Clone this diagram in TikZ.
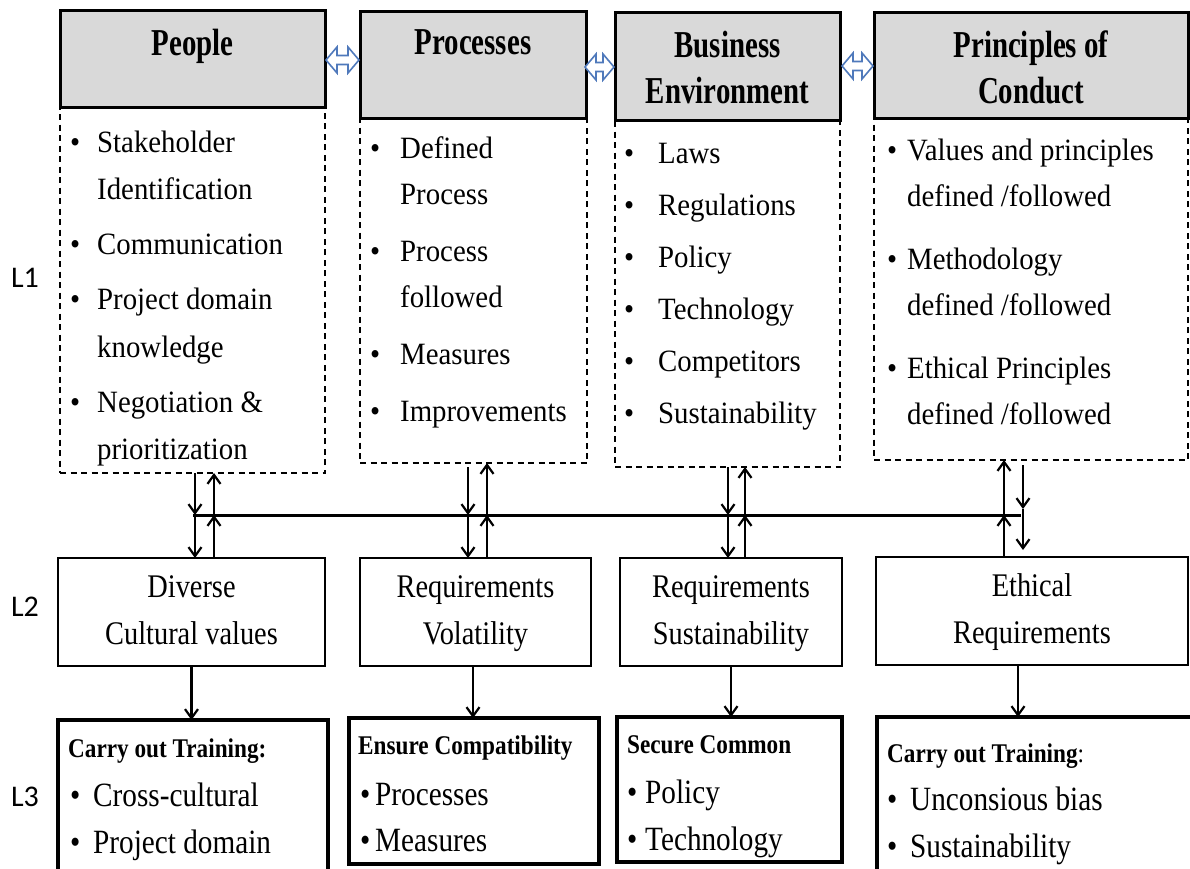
\documentclass[tikz,border=0pt]{standalone}
\usepackage{fontspec}
\setmainfont{Liberation Serif}
\newfontfamily\hdrfont[FakeStretch=0.76]{Liberation Serif}
\newfontfamily\ltwofont[FakeStretch=0.86]{Liberation Serif}
\newfontfamily\lthreefont[FakeStretch=0.86]{Liberation Serif}
\newfontfamily\bodyfont[FakeStretch=0.93]{Liberation Serif}
\newfontfamily\labfont{Carlito}
\usetikzlibrary{arrows.meta,calc}
\definecolor{hdrgray}{HTML}{D9D9D9}
\definecolor{arrblue}{HTML}{4F79BB}
\newcommand\dblarr[3]{%
  \draw[dblarrow] (#1,#3) -- ({#1+11},{#3-13}) -- ({#1+11},{#3-4.5}) -- ({#2-11},{#3-4.5}) -- ({#2-11},{#3-13}) -- (#2,#3) -- ({#2-11},{#3+13}) -- ({#2-11},{#3+4.5}) -- ({#1+11},{#3+4.5}) -- ({#1+11},{#3+13}) -- cycle;}
\tikzset{
  hdr/.style={draw=black, line width=3pt, fill=hdrgray, inner sep=0pt, outer sep=0pt},
  dbox/.style={draw=black, line width=1.8pt, dash pattern=on 6pt off 4.5pt, inner sep=0pt, outer sep=0pt},
  ltwobox/.style={draw=black, line width=2.2pt, inner sep=0pt, outer sep=0pt, font=\ltwofont\fontsize{33}{47}\selectfont},
  lthreebox/.style={draw=black, line width=3.2pt, inner sep=0pt, outer sep=0pt},
  htext/.style={font=\hdrfont\bfseries\fontsize{38}{46}\selectfont, inner sep=0pt, anchor=base},
  btext/.style={inner sep=0pt, anchor=base west},
  ttitle/.style={font=\lthreefont\bfseries\fontsize{27}{30}\selectfont, inner sep=0pt, anchor=base west},
  titems/.style={font=\lthreefont\fontsize{34}{47.5}\selectfont, inner sep=0pt, anchor=base west},
  lvl/.style={font=\labfont\fontsize{30}{34}\selectfont, inner sep=0pt},
  arr/.style={line width=2.4pt, -{Straight Barb[length=9pt,width=13pt,line width=2.2pt]}},
  busline/.style={line width=3pt},
  dblarrow/.style={draw=arrblue, fill=white, line width=1.6pt, line join=miter},
}
\begin{document}
\begin{tikzpicture}[x=1pt,y=-1pt]
\useasboundingbox (0,0) rectangle (1190,868);
\fill[white] (0,0) rectangle (1190,868);
\clip (0,0) rectangle (1190,868);

% ---- L1 headers
\node[hdr, minimum width=265pt, minimum height=97pt] (h1) at (192.5,58.5) {};
\node[hdr, minimum width=226pt, minimum height=107pt] (h2) at (473,64.5) {};
\node[hdr, minimum width=225pt, minimum height=108pt] (h3) at (727.5,66) {};
\node[hdr, minimum width=314pt, minimum height=106pt] (h4) at (1031,65) {};

\node[htext] (h1t) at (192.5,55) {People};
\node[htext] (h2t) at (473,54) {Processes};
\node[htext] (h3t) at (727.5,57) {\begin{tabular}[t]{@{}c@{}}Business\\Environment\end{tabular}};
\node[htext] (h4t) at (1031,57) {\begin{tabular}[t]{@{}c@{}}Principles of\\Conduct\end{tabular}};

% ---- L1 content boxes
\node[dbox, minimum width=265pt, minimum height=366pt] (c1) at (192.5,290) {};
\node[dbox, minimum width=227pt, minimum height=345pt] (c2) at (473.5,290.5) {};
\node[dbox, minimum width=225pt, minimum height=347pt] (c3) at (727.5,293.5) {};
\node[dbox, minimum width=314pt, minimum height=342pt] (c4) at (1031,289) {};

\node[btext, font=\bodyfont\fontsize{31}{47.5}\selectfont] (c1t) at (70,152) {\begin{tabular}[t]{@{}p{27pt}@{}l@{}}
\textbullet & Stakeholder\\
 & Identification\\[7.5pt]
\textbullet & Communication\\[7.5pt]
\textbullet & Project domain\\
 & knowledge\\[7.5pt]
\textbullet & Negotiation \&\\
 & prioritization
\end{tabular}};

\node[btext, font=\bodyfont\fontsize{31}{46}\selectfont] (c2t) at (370,158) {\begin{tabular}[t]{@{}p{30pt}@{}l@{}}
\textbullet & Defined\\
 & Process\\[11pt]
\textbullet & Process\\
 & followed\\[11pt]
\textbullet & Measures\\[11pt]
\textbullet & Improvements
\end{tabular}};

\node[btext, font=\bodyfont\fontsize{31}{52}\selectfont] (c3t) at (624,163) {\begin{tabular}[t]{@{}p{34pt}@{}l@{}}
\textbullet & Laws\\
\textbullet & Regulations\\
\textbullet & Policy\\
\textbullet & Technology\\
\textbullet & Competitors\\
\textbullet & Sustainability
\end{tabular}};

\node[btext, font=\bodyfont\fontsize{31}{46.5}\selectfont] (c4t) at (887,160) {\begin{tabular}[t]{@{}p{20pt}@{}l@{}}
\textbullet & Values and principles\\
 & defined /followed\\[16pt]
\textbullet & Methodology\\
 & defined /followed\\[16pt]
\textbullet & Ethical Principles\\
 & defined /followed
\end{tabular}};

% ---- double arrows between headers
\dblarr{326}{359}{60}
\dblarr{585}{614}{67}
\dblarr{842}{873}{66}

% ---- L2 boxes
\node[ltwobox, minimum width=267pt, minimum height=108pt] (l2a) at (191.5,612) {\begin{tabular}{@{}c@{}}Diverse\\Cultural values\end{tabular}};
\node[ltwobox, minimum width=231pt, minimum height=108pt] (l2b) at (475.5,612) {\begin{tabular}{@{}c@{}}Requirements\\Volatility\end{tabular}};
\node[ltwobox, minimum width=222pt, minimum height=108pt] (l2c) at (731,612) {\begin{tabular}{@{}c@{}}Requirements\\Sustainability\end{tabular}};
\node[ltwobox, minimum width=312pt, minimum height=108pt] (l2d) at (1032,611) {\begin{tabular}{@{}c@{}}Ethical\\Requirements\end{tabular}};

% ---- L3 boxes
\node[lthreebox, minimum width=270pt, minimum height=160pt] (l3a) at (193,800) {};
\node[lthreebox, minimum width=250pt, minimum height=146pt] (l3b) at (474,791) {};
\node[lthreebox, minimum width=225pt, minimum height=145pt] (l3c) at (729.5,789.5) {};
\node[lthreebox, minimum width=318pt, minimum height=163pt] (l3d) at (1036,798.5) {};

\node[ttitle] (l3at) at (68,757) {Carry out Training:};
\node[titems] (l3ai) at (70,806) {\begin{tabular}[t]{@{}p{23pt}@{}l@{}}\textbullet & Cross-cultural\\ \textbullet & Project domain\end{tabular}};
\node[ttitle] (l3bt) at (358,754) {Ensure Compatibility};
\node[titems, font=\lthreefont\fontsize{34}{46.5}\selectfont] (l3bi) at (360,805) {\begin{tabular}[t]{@{}p{15pt}@{}l@{}}\textbullet & Processes\\ \textbullet & Measures\end{tabular}};
\node[ttitle] (l3ct) at (627,753) {Secure Common};
\node[titems, font=\lthreefont\fontsize{34}{47}\selectfont] (l3ci) at (627,803) {\begin{tabular}[t]{@{}p{18pt}@{}l@{}}\textbullet & Policy\\ \textbullet & Technology\end{tabular}};
\node[ttitle] (l3dt) at (887,762) {Carry out Training\mdseries:};
\node[titems, font=\lthreefont\fontsize{34}{47}\selectfont] (l3di) at (887,810) {\begin{tabular}[t]{@{}p{23pt}@{}l@{}}\textbullet & Unconsious bias\\ \textbullet & Sustainability\end{tabular}};

% ---- level labels
\node[lvl] (lab1) at (25,278) {L1};
\node[lvl] (lab2) at (25,607) {L2};
\node[lvl] (lab3) at (25,797) {L3};

% ---- bus
\coordinate (bL) at (193,515);
\coordinate (bR) at (1021,515);
\draw[busline] (bL) -- (bR);

\coordinate (p1) at (195,515);
\coordinate (q1) at (214,515);
\coordinate (p2) at (468,515);
\coordinate (q2) at (487,515);
\coordinate (p3) at (728,515);
\coordinate (q3) at (745,515);
\coordinate (q4) at (1004,515);
\coordinate (p4) at (1023,509);

% People column
\draw[arr] (c1.south -| p1) -- (p1);
\draw[arr] (p1) -- (p1 |- l2a.north);
\draw[arr] (q1 |- l2a.north) -- (q1);
\draw[arr] (q1) -- (q1 |- c1.south);
% Processes column
\draw[arr] ($(c2.south -| p2)+(0,4)$) -- (p2);
\draw[arr] (p2) -- (p2 |- l2b.north);
\draw[arr] (q2 |- l2b.north) -- (q2);
\draw[arr] (q2) -- (q2 |- c2.south);
% Business column
\draw[arr] (c3.south -| p3) -- (p3);
\draw[arr] (p3) -- (p3 |- l2c.north);
\draw[arr] (q3 |- l2c.north) -- (q3);
\draw[arr] (q3) -- (q3 |- c3.south);
% Principles column
\draw[arr] (q4 |- l2d.north) -- (q4);
\draw[arr] (q4) -- (q4 |- c4.south);
\draw[arr] ($(c4.south -| p4)+(0,5)$) -- (p4);
\draw[arr] (p4) -- ($(p4 |- l2d.north)+(0,-7)$);

% ---- L2 -> L3
\coordinate (e4) at (1018,0);
\draw[arr] (l2a.south) -- (l2a.south |- l3a.north);
\draw[arr] (l2b.south -| p2) ++(5,0) -- ($(l3b.north -| p2)+(5,0)$);
\draw[arr] (l2c.south) -- (l2c.south |- l3c.north);
\draw[arr] (l2d.south -| e4) -- (l3d.north -| e4);
\end{tikzpicture}
\end{document}
